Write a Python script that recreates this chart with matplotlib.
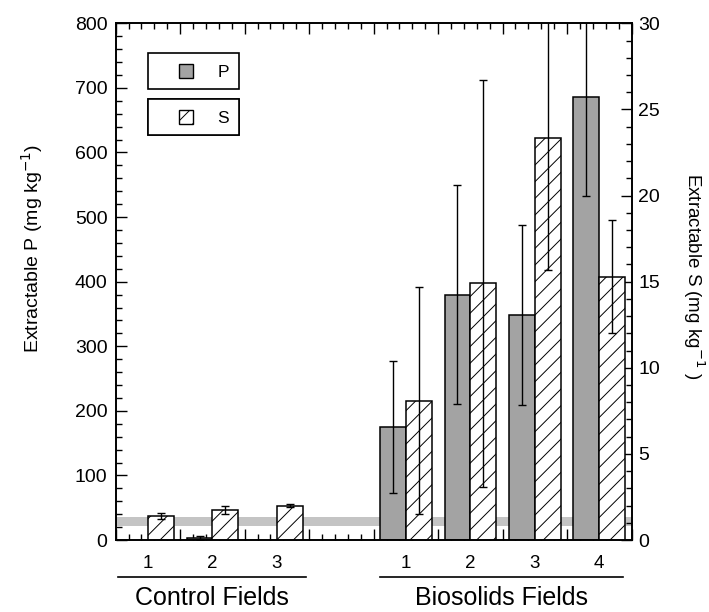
import numpy as np
import matplotlib.pyplot as plt
from matplotlib.patches import Patch, Rectangle
from matplotlib.legend_handler import HandlerPatch
from matplotlib.ticker import MultipleLocator
import matplotlib.transforms as mtransforms

plt.rcParams['font.family'] = ['Liberation Sans', 'DejaVu Sans']
plt.rcParams['hatch.linewidth'] = 0.7

# data
control_fields = ['1', '2', '3']
biosolids_fields = ['1', '2', '3', '4']
group_names = ['Control Fields', 'Biosolids Fields']
p_mean = [np.nan, 3, np.nan, 175, 380, 348, 686]
p_err = [np.nan, 3, np.nan, 102, 170, 139, 153]
s_mean = [1.40, 1.74, 1.99, 8.1, 14.9, 23.35, 15.3]
s_err = [0.17, 0.25, 0.08, 6.6, 11.8, 7.7, 3.3]
band_lo, band_hi = 22, 36   # grey reference band, left axis units

# layout: controls in slots 0-2, one empty slot, biosolids in slots 4-7
pos = np.r_[np.arange(len(control_fields)),
            np.arange(len(biosolids_fields)) + len(control_fields) + 1] + 0.5
labels = control_fields + biosolids_fields
w = 0.4

fig = plt.figure(figsize=(7.09, 6.12), dpi=100)
ax = fig.add_axes([0.1632, 0.1176, 0.7275, 0.8443])
ax2 = ax.twinx()

ax.axhspan(band_lo, band_hi, color='#c4c4c4', lw=0, zorder=0)
ax.bar(pos - w / 2, p_mean, w, yerr=p_err, color='#a3a3a3', edgecolor='black',
       linewidth=1.1, capsize=3, error_kw=dict(elinewidth=1, capthick=1), zorder=2)
ax2.bar(pos + w / 2, s_mean, w, yerr=s_err, color='white', edgecolor='black',
        hatch='//', linewidth=1.1, capsize=3,
        error_kw=dict(elinewidth=1, capthick=1), zorder=2)

ax.set_xlim(0, 8)
ax.set_ylim(0, 800)
ax2.set_ylim(0, 30)

ax.xaxis.set_major_locator(MultipleLocator(1))
ax.xaxis.set_minor_locator(MultipleLocator(0.2))
ax.yaxis.set_major_locator(MultipleLocator(100))
ax.yaxis.set_minor_locator(MultipleLocator(20))
ax2.yaxis.set_major_locator(MultipleLocator(5))
ax2.yaxis.set_minor_locator(MultipleLocator(1))

ax.tick_params(which='both', direction='in', top=True, labelbottom=False,
               labelsize=14, width=1, pad=6)
ax.tick_params(which='major', length=8)
ax.tick_params(which='minor', length=4)
ax2.tick_params(which='both', direction='in', labelsize=14, width=1, pad=5)
ax2.tick_params(which='major', length=8)
ax2.tick_params(which='minor', length=4)
for a in (ax, ax2):
    for sp in a.spines.values():
        sp.set_linewidth(1.2)

# field numbers under the bars
sec = ax.secondary_xaxis('bottom')
sec.set_xticks(pos, labels)
sec.tick_params(length=0, pad=11, labelsize=13.5)
sec.spines['bottom'].set_visible(False)

# group lines and names
trans = mtransforms.blended_transform_factory(ax.transData, ax.transAxes)
spans = [(0.04, 2.95), (4.1, 7.87)]
for (x0, x1), name in zip(spans, group_names):
    ax.plot([x0, x1], [-0.0716, -0.0716], color='black', lw=1.2,
            transform=trans, clip_on=False)
    ax.text((x0 + x1) / 2, -0.112, name, transform=trans, ha='center',
            va='center', fontsize=18)

ax.set_ylabel('Extractable P (mg kg$^{-1}$)', fontsize=14, va='center')
ax.yaxis.set_label_coords(-0.162, 0.565)
ax2.set_ylabel('Extractable S (mg kg$^{-1}$ )', fontsize=13.5, rotation=270,
               va='center')
ax2.yaxis.set_label_coords(1.121, 0.51)


# legend boxes: square patch sitting near the right of a wide handle box
def square(legend, orig_handle, xdescent, ydescent, width, height, fontsize):
    s = 10
    return Rectangle((width - s - xdescent, (height - s) / 2 - ydescent), s, s)


handles = [Patch(facecolor='#a3a3a3', edgecolor='black', linewidth=1),
           Patch(facecolor='white', edgecolor='black', hatch='//', linewidth=1)]
names = ['P', 'S']
tops = [1 - 53.3 / 612, 1 - 99.3 / 612]
for h, n, top in zip(handles, names, tops):
    leg = ax2.legend([h], [n], loc='upper left', bbox_to_anchor=(147.7 / 709, top),
                     bbox_transform=fig.transFigure, fontsize=12.5,
                     handler_map={Patch: HandlerPatch(patch_func=square)},
                     handlelength=2.05, handleheight=1.0, handletextpad=1.4,
                     borderpad=0.56, borderaxespad=0, fancybox=False,
                     framealpha=1, edgecolor='black')
    leg.get_frame().set_linewidth(1.2)
    ax2.add_artist(leg)

fig.savefig('out.png', dpi=100)
